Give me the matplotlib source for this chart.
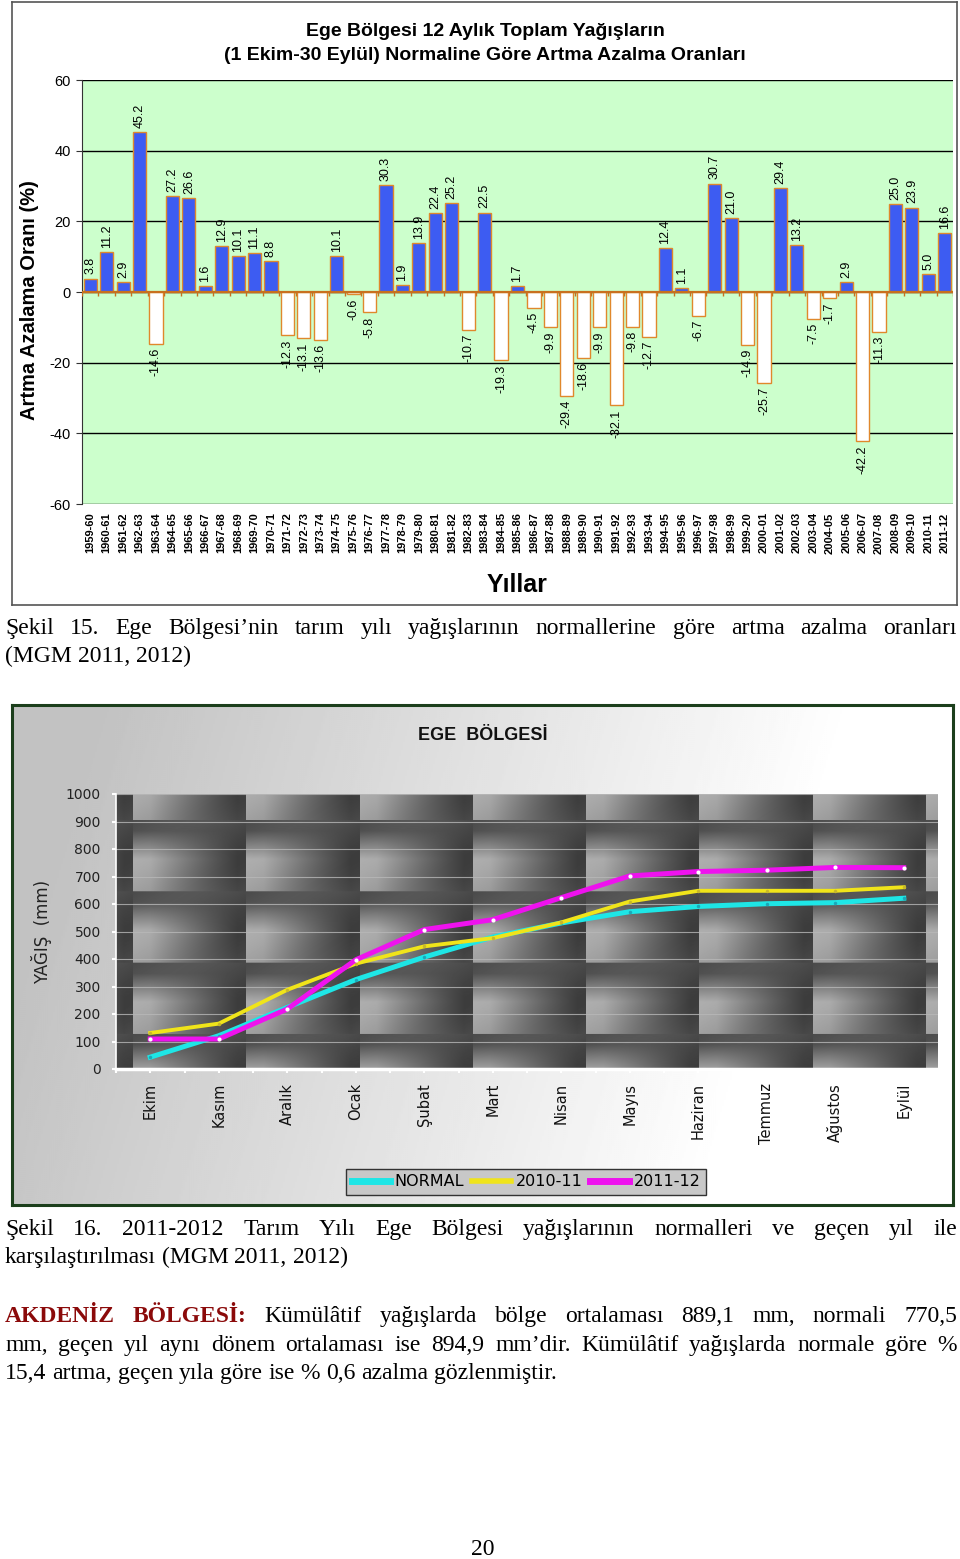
import matplotlib
matplotlib.use("Agg")
import numpy as np
import matplotlib.pyplot as plt
from matplotlib.lines import Line2D

plt.rcParams['font.family'] = ['Liberation Sans', 'DejaVu Sans']
plt.rcParams['axes.unicode_minus'] = False

W, H = 960, 1559

# --- chart 1 data: yearly change vs normal (%) ---
seasons = ['1959-60', '1960-61', '1961-62', '1962-63', '1963-64', '1964-65', '1965-66',
           '1966-67', '1967-68', '1968-69', '1969-70', '1970-71', '1971-72', '1972-73',
           '1973-74', '1974-75', '1975-76', '1976-77', '1977-78', '1978-79', '1979-80',
           '1980-81', '1981-82', '1982-83', '1983-84', '1984-85', '1985-86', '1986-87',
           '1987-88', '1988-89', '1989-90', '1990-91', '1991-92', '1992-93', '1993-94',
           '1994-95', '1995-96', '1996-97', '1997-98', '1998-99', '1999-20', '2000-01',
           '2001-02', '2002-03', '2003-04', '2004-05', '2005-06', '2006-07', '2007-08',
           '2008-09', '2009-10', '2010-11', '2011-12']
change = [3.8, 11.2, 2.9, 45.2, -14.6, 27.2, 26.6, 1.6, 12.9, 10.1, 11.1, 8.8, -12.3, -13.1,
          -13.6, 10.1, -0.6, -5.8, 30.3, 1.9, 13.9, 22.4, 25.2, -10.7, 22.5, -19.3, 1.7, -4.5,
          -9.9, -29.4, -18.6, -9.9, -32.1, -9.8, -12.7, 12.4, 1.1, -6.7, 30.7, 21.0, -14.9,
          -25.7, 29.4, 13.2, -7.5, -1.7, 2.9, -42.2, -11.3, 25.0, 23.9, 5.0, 16.6]

# --- chart 2 data: cumulative rainfall (mm) ---
months = ['Ekim', 'Kasım', 'Aralık', 'Ocak', 'Şubat', 'Mart', 'Nisan', 'Mayıs',
          'Haziran', 'Temmuz', 'Ağustos', 'Eylül']
normal = [43, 121, 224, 325, 407, 480, 531, 572, 591, 601, 605, 621]
y2010_11 = [131, 165, 288, 383, 446, 476, 533, 609, 648, 648, 648, 661]
y2011_12 = [109, 109, 218, 397, 507, 543, 623, 702, 718, 723, 733, 732]


def rect(x0, y0, x1, y1):
    return [x0 / W, 1 - y1 / H, (x1 - x0) / W, (y1 - y0) / H]


def fx(x):
    return x / W


def fy(y):
    return 1 - y / H


fig = plt.figure(figsize=(W / 100, H / 100), dpi=100)
fig.patch.set_facecolor('white')

# ================= chart 1 =================
frame1 = fig.add_axes(rect(12, 2, 957, 605))
frame1.set_xticks([])
frame1.set_yticks([])
for s in frame1.spines.values():
    s.set_color('#555555')
    s.set_linewidth(1.2)
frame1.patch.set_alpha(0)

ax1 = fig.add_axes(rect(82, 80, 953, 504))
x = np.arange(len(seasons))
vals = np.array(change)
colors = ['#3d5cf2' if v > 0 else 'white' for v in vals]
ax1.bar(x, vals, width=0.8, color=colors, edgecolor='#e0882c', linewidth=1.0, zorder=3)
ax1.set_facecolor('#ccffcc')
ax1.set_xlim(-0.5, len(seasons) - 0.5)
ax1.set_ylim(-60, 60)
ax1.set_yticks([-60, -40, -20, 0, 20, 40, 60])
ax1.yaxis.grid(True, color='black', linewidth=1.0)
ax1.set_axisbelow(True)
ax1.axhline(0, color='#c8701e', linewidth=1.6, zorder=4)
ax1.vlines(np.arange(len(seasons) + 1) - 0.5, -1.0, 0, color='#c8701e', linewidth=1.0, zorder=4)
for s in ['top', 'right', 'bottom']:
    ax1.spines[s].set_visible(False)
ax1.spines['left'].set_color('#333333')
ax1.tick_params(axis='y', labelsize=10.5, length=4, color='#333333', pad=4)
ax1.set_xticks(x)
ax1.set_xticklabels(seasons, rotation=90, fontsize=8, fontweight='bold')
ax1.tick_params(axis='x', length=0, pad=6)

for xi, v in zip(x, vals):
    if v > 0:
        ax1.annotate(f'{v:.1f}', (xi, v), xytext=(0, 3), textcoords='offset points',
                     rotation=90, ha='center', va='bottom', fontsize=9)
    else:
        ax1.annotate(f'{v:.1f}', (xi, v), xytext=(0, -3), textcoords='offset points',
                     rotation=90, ha='center', va='top', fontsize=9)

fig.text(fx(485), fy(31), 'Ege Bölgesi 12 Aylık Toplam Yağışların', ha='center', va='center',
         fontsize=14, fontweight='bold')
fig.text(fx(485), fy(55), '(1 Ekim-30 Eylül) Normaline Göre Artma Azalma Oranları', ha='center',
         va='center', fontsize=14, fontweight='bold')
fig.text(fx(30), fy(300), 'Artma Azalama Oranı (%)', rotation=90, ha='center', va='center',
         fontsize=14.5, fontweight='bold')
fig.text(fx(517), fy(585), 'Yıllar', ha='center', va='center', fontsize=18, fontweight='bold')

# ================= chart 2 =================
bg = fig.add_axes(rect(12, 705, 953, 1205))
gx, gy = np.meshgrid(np.linspace(0, 1, 470), np.linspace(0, 1, 250))
grad = 0.76 + 0.24 * np.clip(gx * 1.25 - 0.12 + 0.2 * gy, 0, 1)
bg.imshow(grad, extent=(0, 1, 0, 1), aspect='auto', cmap='gray', vmin=0, vmax=1)
bg.set_xlim(0, 1)
bg.set_ylim(0, 1)
bg.set_xticks([])
bg.set_yticks([])
for s in bg.spines.values():
    s.set_color('#1c3f1c')
    s.set_linewidth(2.2)

px0, px1, py0, py1 = 116, 938, 794, 1069
ax2 = fig.add_axes(rect(px0, py0, px1, py1))

# picture-fill style tiles behind the plot
X, Y = np.meshgrid(np.arange(px0, px1) + 0.5, np.arange(py0, py1) + 0.5)
u = ((X - 133) % 113.3) / 113.3
v = ((Y - 821) % 71) / 71
h = np.clip(1.2 - 1.3 * u, 0, 1)
g = np.clip((v - 0.15) / 0.4, 0, 1)
diag = 0.05 * np.sin((u + v) * np.pi)
tile = 0.29 + 0.34 * h * g + diag
ax2.imshow(tile, extent=(-0.5, 11.5, 0, 1000), aspect='auto', cmap='gray', vmin=0, vmax=1,
           zorder=0, origin='upper')

xm = np.arange(len(months))
ax2.plot(xm, normal, color='#1ee6e6', linewidth=3.6, marker='o', markersize=2.5,
         markerfacecolor='#1aa8b8', markeredgewidth=0, label='NORMAL', zorder=3)
ax2.plot(xm, y2010_11, color='#f0e41a', linewidth=2.8, marker='o', markersize=2.5,
         markerfacecolor='#c8b828', markeredgewidth=0, label='2010-11', zorder=4)
ax2.plot(xm, y2011_12, color='#ee12ee', linewidth=3.6, marker='o', markersize=3,
         markerfacecolor='white', markeredgewidth=0, label='2011-12', zorder=5)

ax2.set_xlim(-0.5, 11.5)
ax2.set_ylim(0, 1000)
ax2.set_yticks(np.arange(0, 1001, 100))
ax2.yaxis.grid(True, color='#b8b8b8', linewidth=0.8, alpha=0.8, zorder=1)
ax2.set_axisbelow(True)
for s in ['top', 'right']:
    ax2.spines[s].set_visible(False)
ax2.spines['left'].set_color('white')
ax2.spines['left'].set_linewidth(1.2)
ax2.spines['bottom'].set_color('white')
ax2.spines['bottom'].set_linewidth(2.5)
ax2.tick_params(axis='y', colors='white', labelcolor='#222222', length=3, width=1.5,
                labelsize=10, pad=8)
for lab in ax2.get_yticklabels():
    lab.set_family('DejaVu Sans')
ax2.set_xticks(xm)
ax2.set_xticklabels(months, rotation=90, fontsize=10.5, family='DejaVu Sans', color='#111111')
ax2.set_xticks(np.arange(-0.5, 12, 1), minor=True)
ax2.tick_params(axis='x', which='both', colors='white', labelcolor='#111111', length=3,
                width=1.5, pad=7)

fig.text(fx(483), fy(735), 'EGE  BÖLGESİ', ha='center', va='center', fontsize=13,
         fontweight='bold', color='#111111')
fig.text(fx(42), fy(932), 'YAĞIŞ  (mm)', rotation=90, ha='center', va='center', fontsize=12,
         family='DejaVu Sans', color='#222222')

handles = [Line2D([], [], color='#1ee6e6', linewidth=5),
           Line2D([], [], color='#f0e41a', linewidth=4),
           Line2D([], [], color='#ee12ee', linewidth=5)]
leg = fig.legend(handles, ['NORMAL', '2010-11', '2011-12'], loc='center',
                 bbox_to_anchor=(fx(526), fy(1182)), ncol=3, frameon=True, fancybox=False,
                 framealpha=1, facecolor='#c8c8c8', edgecolor='#333333', handlelength=2.4,
                 handletextpad=0.3, columnspacing=0.5, borderpad=0.35,
                 prop={'family': 'DejaVu Sans', 'size': 11.5})
leg.get_frame().set_linewidth(1.0)

# ================= body text =================
SERIF = ['Liberation Serif', 'DejaVu Serif']
SIZE = 17
renderer = fig.canvas.get_renderer()


def put_line(segments, ybase, x0=5, x1=957, justify=True):
    words = []
    for txt, props in segments:
        for w in txt.split(' '):
            if w:
                words.append((w, props))
    objs, widths = [], []
    for w, props in words:
        t = fig.text(0, fy(ybase), w, fontsize=SIZE, family=SERIF, va='baseline', ha='left',
                     **props)
        objs.append(t)
        widths.append(t.get_window_extent(renderer).width)
    if justify and len(words) > 1:
        gap = (x1 - x0 - sum(widths)) / (len(words) - 1)
    else:
        gap = 0.25 * SIZE * 100 / 72
    xpos = x0
    for t, wd in zip(objs, widths):
        t.set_x(fx(xpos))
        xpos += wd + gap


plain = {}
put_line([('Şekil 15. Ege Bölgesi’nin tarım yılı yağışlarının normallerine göre artma azalma oranları', plain)], 634)
put_line([('(MGM 2011, 2012)', plain)], 662, justify=False)

put_line([('Şekil 16. 2011-2012 Tarım Yılı Ege Bölgesi yağışlarının normalleri ve geçen yıl ile', plain)], 1235)
put_line([('karşılaştırılması (MGM 2011, 2012)', plain)], 1263, justify=False)

put_line([('AKDENİZ BÖLGESİ:', {'fontweight': 'bold', 'color': '#8b0a0a'}),
          ('Kümülâtif yağışlarda bölge ortalaması 889,1 mm, normali 770,5', plain)], 1322)
put_line([('mm, geçen yıl aynı dönem ortalaması ise 894,9 mm’dir. Kümülâtif yağışlarda normale göre %', plain)], 1351)
put_line([('15,4 artma, geçen yıla göre ise % 0,6 azalma gözlenmiştir.', plain)], 1379, justify=False)

fig.text(fx(483), fy(1555), '20', ha='center', va='baseline', fontsize=SIZE, family=SERIF)

fig.savefig('out.png', dpi=100)
